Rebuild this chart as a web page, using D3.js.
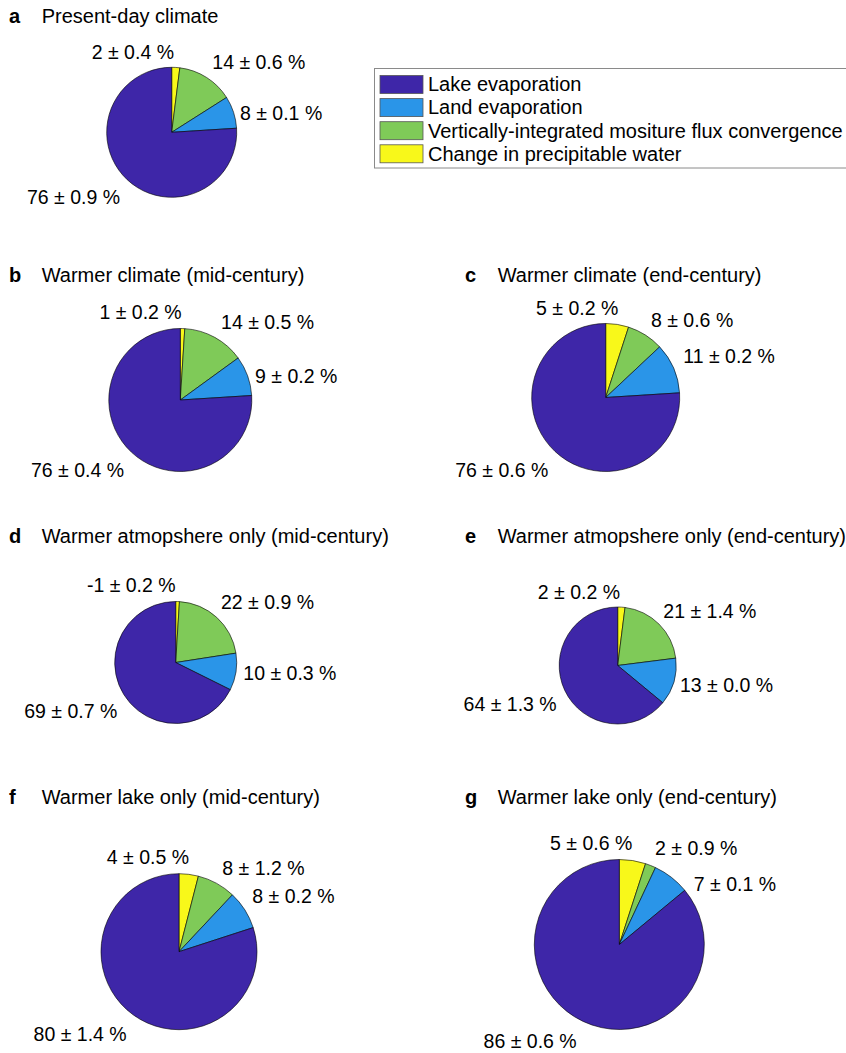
<!DOCTYPE html>
<html>
<head>
<meta charset="utf-8">
<script src="https://cdn.jsdelivr.net/npm/d3@7"></script>
<style>
  html, body { margin: 0; padding: 0; background: #fff; }
  svg { display: block; font-family: "Liberation Sans", Arial, Helvetica, sans-serif; }
</style>
</head>
<body>
<svg id="chart" width="846" height="1053"></svg>
<script>
// ---------------- DATA ----------------
const panelLetters = ["a", "b", "c", "d", "e", "f", "g"];
const panelTitles = [
  "Present-day climate",
  "Warmer climate (mid-century)",
  "Warmer climate (end-century)",
  "Warmer atmopshere only (mid-century)",
  "Warmer atmopshere only (end-century)",
  "Warmer lake only (mid-century)",
  "Warmer lake only (end-century)"
];
const categories = [
  "Lake evaporation",
  "Land evaporation",
  "Vertically-integrated mositure flux convergence",
  "Change in precipitable water"
];
const lakeEvap    = [76, 76, 76, 69, 64, 80, 86];
const lakeEvapErr = [0.9, 0.4, 0.6, 0.7, 1.3, 1.4, 0.6];
const landEvap    = [8, 9, 11, 10, 13, 8, 7];
const landEvapErr = [0.1, 0.2, 0.2, 0.3, 0.0, 0.2, 0.1];
const vimfc       = [14, 14, 8, 22, 21, 8, 2];
const vimfcErr    = [0.6, 0.5, 0.6, 0.9, 1.4, 1.2, 0.9];
const pwChange    = [2, 1, 5, -1, 2, 4, 5];
const pwChangeErr = [0.4, 0.2, 0.2, 0.2, 0.2, 0.5, 0.6];

// ---------------- STYLE / LAYOUT ----------------
const colors = ["#3E26A8", "#2A95E8", "#7FCA58", "#F8F81A"];
const layout = [
  {cx: 171.7, cy: 132.3, r: 65,   lx: 9,   tx: 41.7,  ty: 23},
  {cx: 180.3, cy: 400,   r: 71.5, lx: 9,   tx: 41.7,  ty: 282.3},
  {cx: 605.7, cy: 397.5, r: 74,   lx: 465, tx: 497.7, ty: 282.3},
  {cx: 175.7, cy: 662.5, r: 61,   lx: 9,   tx: 41.7,  ty: 543},
  {cx: 617.7, cy: 665.5, r: 58.5, lx: 465, tx: 497.7, ty: 543},
  {cx: 179,   cy: 951.7, r: 78,   lx: 9,   tx: 41.7,  ty: 803.5},
  {cx: 619.3, cy: 944.5, r: 85,   lx: 465, tx: 497.7, ty: 803.5}
];
// label nudges (dx, dy) per category [lake, land, vimfc, pw]
const labelNudge = [
  [[1.7, 7.5], [-5.9, 5.1], [-1.2, -4.1], [-2.6, -2.8]],
  [[2.5, 7.4], [-6, 5],     [-0.6, -3.1], [-1.3, -2.5]],
  [[3.4, 7.8], [-3.9, -6.2],[-2.3, -2.5], [-1.3, -1.5]],
  [[3.8, 9.6], [-4.7, -0.4],[-4, -6.7],   [-2.3, -4.3]],
  [[2.5, 8.6], [-5.1, 0],   [-4, -5.2],   [-2.1, -3.7]],
  [[2.7, 6.9], [-5.7, -5.5],[-1.8, -2],   [-1.7, -1.5]],
  [[0.8, 3.9], [12, 20],    [-1.8, -1.4], [-3, -1]]
];
const titleSize = 20, labelSize = 19.5, legendSize = 20;

// ---------------- DRAW ----------------
const svg = d3.select("#chart");

const pie = d3.pie().sort(null).value(d => Math.abs(d.value))
  .startAngle(0).endAngle(2 * Math.PI);

panelLetters.forEach((letter, i) => {
  const L = layout[i];
  // titles
  svg.append("text").attr("x", L.lx).attr("y", L.ty)
    .attr("font-size", titleSize).attr("font-weight", "bold").text(letter);
  svg.append("text").attr("x", L.tx).attr("y", L.ty)
    .attr("font-size", titleSize).text(panelTitles[i]);

  // slices: clockwise from top in order pw, vimfc, land, lake
  const rows = [
    {k: 3, value: pwChange[i], err: pwChangeErr[i]},
    {k: 2, value: vimfc[i],    err: vimfcErr[i]},
    {k: 1, value: landEvap[i], err: landEvapErr[i]},
    {k: 0, value: lakeEvap[i], err: lakeEvapErr[i]}
  ];
  const arcs = pie(rows);
  const arc = d3.arc().innerRadius(0).outerRadius(L.r);
  const g = svg.append("g").attr("transform", `translate(${L.cx},${L.cy})`);
  g.selectAll("path").data(arcs).join("path")
    .attr("d", arc)
    .attr("fill", d => colors[d.data.k])
    .attr("stroke", "#000")
    .attr("stroke-width", 0.6)
    .attr("stroke-linejoin", "round");

  // labels
  arcs.forEach(d => {
    const mid = (d.startAngle + d.endAngle) / 2;
    const R = 1.2 * L.r;
    const s = Math.sin(mid), c = Math.cos(mid);
    const nd = labelNudge[i][d.data.k];
    const x = L.cx + R * s + nd[0];
    const y = L.cy - R * c + nd[1];
    svg.append("text")
      .attr("x", x).attr("y", y).attr("dy", "0.36em")
      .attr("font-size", labelSize)
      .attr("text-anchor", s < 0.25 ? "end" : "start")
      .text(`${d.data.value} \u00B1 ${d.data.err.toFixed(1)} %`);
  });
});

// legend
const lg = svg.append("g");
lg.append("rect").attr("x", 374.5).attr("y", 68.5).attr("width", 500).attr("height", 99.5)
  .attr("fill", "#fff").attr("stroke", "#8a8a8a").attr("stroke-width", 1);
categories.forEach((name, j) => {
  lg.append("rect").attr("x", 380).attr("y", 75.5 + j * 23.1)
    .attr("width", 43).attr("height", 18)
    .attr("fill", colors[j]).attr("stroke", "#555").attr("stroke-width", 0.8);
  lg.append("text").attr("x", 428).attr("y", 91.3 + j * 23.1)
    .attr("font-size", legendSize).text(name);
});
</script>
</body>
</html>
